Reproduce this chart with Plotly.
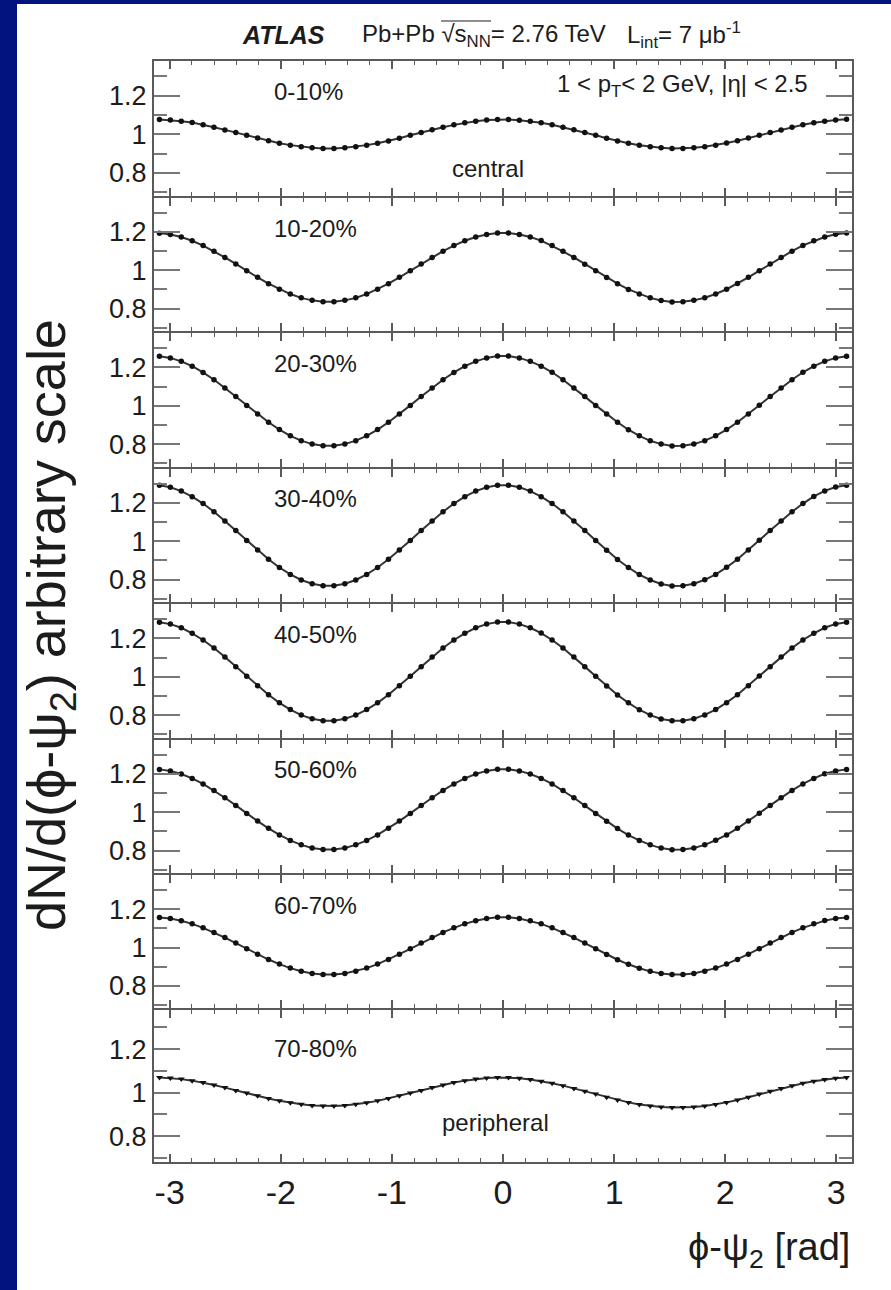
import numpy as np
import plotly.graph_objects as go

# ---------------- data ----------------
centrality = ["0-10%", "10-20%", "20-30%", "30-40%", "40-50%", "50-60%", "60-70%", "70-80%"]
n_bins = 64
phi_edges = np.linspace(-np.pi, np.pi, n_bins + 1)
phi = 0.5 * (phi_edges[1:] + phi_edges[:-1])

x_tick_vals = [-3, -2, -1, 0, 1, 2, 3]
x_tick_text = ["-3", "-2", "-1", "0", "1", "2", "3"]
y_tick_vals = [0.8, 1.0, 1.2]
y_tick_text = ["0.8", "1", "1.2"]

c0_10 = [1.077, 1.074, 1.068, 1.061, 1.050, 1.037, 1.023, 1.009, 0.995, 0.981, 0.967, 0.954, 0.944, 0.936, 0.930, 0.927,
         0.927, 0.931, 0.936, 0.944, 0.954, 0.966, 0.980, 0.995, 1.010, 1.024, 1.037, 1.049, 1.060, 1.068, 1.074, 1.077,
         1.077, 1.073, 1.068, 1.060, 1.050, 1.037, 1.024, 1.010, 0.995, 0.980, 0.966, 0.954, 0.943, 0.935, 0.930, 0.927,
         0.927, 0.930, 0.936, 0.944, 0.955, 0.967, 0.981, 0.995, 1.009, 1.023, 1.037, 1.050, 1.060, 1.068, 1.074, 1.078]
c10_20 = [1.194, 1.187, 1.174, 1.154, 1.129, 1.100, 1.067, 1.033, 0.997, 0.963, 0.930, 0.901, 0.876, 0.856, 0.843, 0.836,
          0.836, 0.843, 0.856, 0.876, 0.901, 0.930, 0.963, 0.997, 1.033, 1.067, 1.100, 1.129, 1.154, 1.174, 1.187, 1.195,
          1.195, 1.187, 1.174, 1.155, 1.129, 1.099, 1.067, 1.032, 0.997, 0.962, 0.930, 0.900, 0.876, 0.856, 0.842, 0.835,
          0.836, 0.843, 0.857, 0.876, 0.901, 0.931, 0.963, 0.998, 1.033, 1.067, 1.100, 1.130, 1.154, 1.174, 1.188, 1.195]
c20_30 = [1.259, 1.250, 1.232, 1.207, 1.174, 1.136, 1.093, 1.048, 1.002, 0.957, 0.914, 0.876, 0.843, 0.818, 0.800, 0.791,
          0.791, 0.800, 0.818, 0.843, 0.876, 0.914, 0.957, 1.002, 1.048, 1.093, 1.136, 1.174, 1.207, 1.232, 1.250, 1.260,
          1.260, 1.250, 1.232, 1.207, 1.175, 1.136, 1.093, 1.048, 1.002, 0.957, 0.914, 0.875, 0.843, 0.817, 0.800, 0.790,
          0.791, 0.800, 0.818, 0.843, 0.876, 0.914, 0.957, 1.003, 1.048, 1.093, 1.136, 1.175, 1.207, 1.232, 1.250, 1.259]
c30_40 = [1.292, 1.282, 1.262, 1.233, 1.197, 1.154, 1.106, 1.056, 1.004, 0.954, 0.906, 0.863, 0.827, 0.798, 0.778, 0.768,
          0.768, 0.778, 0.798, 0.827, 0.863, 0.906, 0.954, 1.004, 1.056, 1.106, 1.154, 1.197, 1.233, 1.262, 1.282, 1.293,
          1.293, 1.282, 1.262, 1.233, 1.197, 1.154, 1.106, 1.056, 1.004, 0.953, 0.905, 0.863, 0.826, 0.798, 0.777, 0.767,
          0.768, 0.778, 0.799, 0.827, 0.864, 0.906, 0.954, 1.005, 1.056, 1.106, 1.154, 1.197, 1.234, 1.263, 1.283, 1.292]
c40_50 = [1.285, 1.275, 1.256, 1.227, 1.192, 1.150, 1.103, 1.053, 1.003, 0.953, 0.906, 0.864, 0.829, 0.800, 0.781, 0.771,
          0.771, 0.781, 0.800, 0.829, 0.864, 0.906, 0.953, 1.003, 1.053, 1.103, 1.150, 1.192, 1.227, 1.256, 1.275, 1.286,
          1.286, 1.275, 1.256, 1.228, 1.192, 1.150, 1.103, 1.053, 1.003, 0.952, 0.905, 0.864, 0.828, 0.800, 0.780, 0.770,
          0.771, 0.781, 0.801, 0.829, 0.865, 0.906, 0.953, 1.004, 1.053, 1.103, 1.150, 1.192, 1.227, 1.256, 1.276, 1.285]
c50_60 = [1.224, 1.216, 1.200, 1.177, 1.148, 1.114, 1.076, 1.036, 0.994, 0.954, 0.916, 0.882, 0.853, 0.830, 0.814, 0.806,
          0.806, 0.814, 0.830, 0.853, 0.882, 0.916, 0.954, 0.994, 1.036, 1.076, 1.114, 1.148, 1.177, 1.200, 1.216, 1.225,
          1.225, 1.216, 1.200, 1.177, 1.148, 1.114, 1.076, 1.035, 0.994, 0.953, 0.915, 0.881, 0.853, 0.830, 0.813, 0.805,
          0.806, 0.814, 0.830, 0.854, 0.882, 0.916, 0.954, 0.995, 1.036, 1.076, 1.114, 1.148, 1.177, 1.201, 1.216, 1.224]
c60_70 = [1.157, 1.152, 1.140, 1.124, 1.103, 1.079, 1.052, 1.023, 0.993, 0.965, 0.937, 0.913, 0.892, 0.876, 0.864, 0.859,
          0.859, 0.864, 0.876, 0.892, 0.913, 0.937, 0.965, 0.993, 1.023, 1.052, 1.079, 1.103, 1.124, 1.140, 1.152, 1.158,
          1.158, 1.152, 1.140, 1.124, 1.103, 1.079, 1.052, 1.023, 0.993, 0.964, 0.936, 0.912, 0.891, 0.875, 0.864, 0.858,
          0.859, 0.864, 0.876, 0.892, 0.913, 0.937, 0.965, 0.994, 1.023, 1.052, 1.079, 1.103, 1.124, 1.141, 1.152, 1.157]
c70_80 = [1.070, 1.067, 1.062, 1.055, 1.046, 1.035, 1.023, 1.010, 0.998, 0.985, 0.973, 0.962, 0.953, 0.946, 0.941, 0.938,
          0.938, 0.941, 0.946, 0.953, 0.962, 0.973, 0.985, 0.998, 1.010, 1.023, 1.035, 1.046, 1.055, 1.062, 1.067, 1.070,
          1.069, 1.066, 1.060, 1.052, 1.043, 1.032, 1.019, 1.006, 0.993, 0.979, 0.966, 0.955, 0.945, 0.938, 0.934, 0.932,
          0.932, 0.934, 0.938, 0.945, 0.955, 0.966, 0.979, 0.993, 1.006, 1.019, 1.032, 1.043, 1.052, 1.060, 1.066, 1.070]

series = [c0_10, c10_20, c20_30, c30_40, c40_50, c50_60, c60_70, c70_80]

# ---------------- layout constants ----------------
W, H = 891, 1290
FONT = "Liberation Sans, Arial, Helvetica, sans-serif"
TXT = "#1c1c1c"
AX = "#5a5a5a"
panel_edges_px = [61, 196.5, 332, 467.5, 603, 738.5, 874, 1009, 1161.5]
x0px, x1px = 154, 852
label_y_px = [92, 228, 364, 499, 634, 770, 905, 1048]
LW = 2


def px(x):
    return x / W


def py(y):
    return 1 - y / H


fig = go.Figure()

n_panels = len(series)
for i, (lab, vals) in enumerate(zip(centrality, series)):
    n = i + 1
    xa = "x" if n == 1 else f"x{n}"
    ya = "y" if n == 1 else f"y{n}"
    # interior boundaries: shrink by half a line width so shared frame lines coincide
    top_px = panel_edges_px[i] + (LW / 2 if i > 0 else 0)
    bot_px = panel_edges_px[i + 1] - (LW / 2 if i < n_panels - 1 else 0)
    fig.add_trace(go.Scatter(
        x=phi, y=vals, mode="lines+markers", xaxis=xa, yaxis=ya,
        line=dict(color="#333333", width=2),
        marker=dict(color="#111111", size=6 if n == 8 else 5.5,
                    symbol="triangle-down" if n == 8 else "circle"),
        showlegend=False, name=lab, cliponaxis=False))
    xkey = "xaxis" if n == 1 else f"xaxis{n}"
    ykey = "yaxis" if n == 1 else f"yaxis{n}"
    fig.update_layout(**{
        xkey: dict(
            domain=[px(x0px), px(x1px)], anchor=ya, range=[-np.pi, np.pi],
            showline=True, linecolor=AX, linewidth=LW, mirror="ticks",
            ticks="inside", ticklen=8, tickwidth=1.5, tickcolor=AX,
            tickmode="array", tickvals=x_tick_vals, ticktext=x_tick_text,
            showticklabels=(n == n_panels), showgrid=False, zeroline=False,
            tickfont=dict(family=FONT, size=34, color=TXT),
            minor=dict(dtick=0.2, tick0=0, ticks="inside", ticklen=4,
                       tickwidth=1.2, tickcolor=AX, showgrid=False),
        ),
        ykey: dict(
            domain=[py(bot_px), py(top_px)], anchor=xa,
            range=[0.683, 1.38],
            showline=True, linecolor=AX, linewidth=LW, mirror="ticks",
            ticks="inside", ticklen=26, tickwidth=2, tickcolor="#777777",
            tickmode="array", tickvals=y_tick_vals, ticktext=y_tick_text,
            showgrid=False, zeroline=False,
            tickfont=dict(family=FONT, size=27, color=TXT),
            minor=dict(dtick=0.1, tick0=0, ticks="inside", ticklen=13,
                       tickwidth=2, tickcolor="#777777", showgrid=False),
        ),
    })

annotations = []


def add_text(text, x, y, size, xanchor="left", textangle=0):
    annotations.append(dict(
        text=text, x=px(x), y=py(y), xref="paper", yref="paper",
        xanchor=xanchor, yanchor="middle", showarrow=False, textangle=textangle,
        font=dict(family=FONT, size=size, color=TXT)))


add_text("<b><i>ATLAS</i></b>", 240, 35, 25)
add_text("Pb+Pb \u221as<sub>NN</sub>= 2.76 TeV", 360, 35, 24)
add_text("L<sub>int</sub>= 7 \u03bcb<sup>-1</sup>", 625, 35, 24)
add_text("1 < p<sub>T</sub>< 2 GeV, |\u03b7| < 2.5", 810, 86, 24, xanchor="right")
for lab, ly in zip(centrality, label_y_px):
    add_text(lab, 272, ly, 24)
add_text("central", 450, 168, 24)
add_text("peripheral", 440, 1122, 24)
add_text("dN/d(\u03d5-\u03c8<sub>2</sub>) arbitrary scale", 50, 625, 54, xanchor="center", textangle=-90)
add_text("\u03d5-\u03c8<sub>2</sub> [rad]", 852, 1250, 38, xanchor="right")

shapes = [
    dict(type="rect", xref="paper", yref="paper", x0=px(17), x1=1,
         y0=0, y1=py(4), fillcolor="white", line=dict(width=0), layer="below"),
    # overline of the square root sign
    dict(type="line", xref="paper", yref="paper", x0=px(441), x1=px(491),
         y0=py(21), y1=py(21), line=dict(color=TXT, width=1.2)),
]

fig.update_layout(
    width=W, height=H, autosize=False,
    margin=dict(l=0, r=0, t=0, b=0),
    paper_bgcolor="#02127f", plot_bgcolor="white",
    annotations=annotations,
    shapes=shapes,
)

fig.write_html("out.html")
